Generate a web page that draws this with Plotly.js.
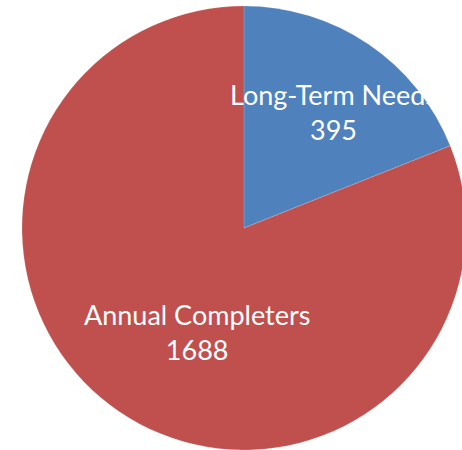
<!DOCTYPE html>
<html><head><meta charset="utf-8">
<script src="https://cdn.plot.ly/plotly-3.0.1.min.js"></script>
<style>html,body{margin:0;padding:0;overflow:hidden;background:#fff;width:462px;height:450px}</style>
</head><body><div id="chart"></div>
<script>
const labels = ["Long-Term Needs", "Annual Completers"];
const values = [395, 1688];
const colors = ["#4F81BD", "#C0504D"];
const labelPos = [[0.7005, 0.761], [0.394, 0.2655]];

const annotations = labels.map((l, i) => ({
  xref: 'paper', yref: 'paper', x: labelPos[i][0], y: labelPos[i][1],
  xanchor: 'center', yanchor: 'middle', showarrow: false,
  text: l + '<br>' + values[i],
  font: {family: 'Lato, "Open Sans", sans-serif', size: 27, color: '#ffffff'}
}));

Plotly.newPlot('chart', [{
  type: 'pie', labels: labels, values: values, sort: false, direction: 'clockwise', rotation: 0,
  marker: {colors: colors, line: {color: 'rgba(255,255,255,0.3)', width: 0.5}},
  textinfo: 'none', hoverinfo: 'none', showlegend: false
}], {
  width: 470, height: 450,
  margin: {l: 22, r: 4, t: 6, b: 0},
  paper_bgcolor: '#ffffff', showlegend: false,
  annotations: annotations
}, {staticPlot: true});
</script></body></html>
